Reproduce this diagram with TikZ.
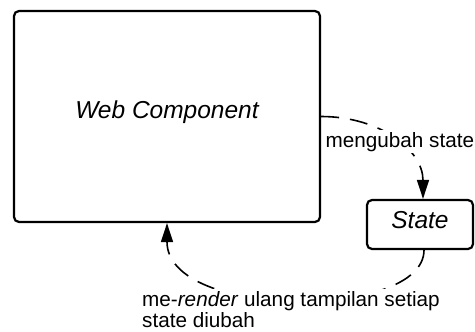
\documentclass[tikz,border=0pt]{standalone}
\usepackage{fontspec}
\setmainfont{Liberation Sans}
\usetikzlibrary{arrows.meta}
\begin{document}
\begin{tikzpicture}[x=1pt,y=-1pt,
  box/.style={draw=black, line width=2.2pt, rounded corners=5pt, fill=white, inner sep=0pt},
  conn/.style={line width=1.6pt, dash pattern=on 18pt off 11pt, -{Triangle[length=19pt,width=12pt]}},
  lbl/.style={fill=white, inner sep=2pt, font=\fontsize{20.7}{21}\selectfont}
]
\useasboundingbox (0,0) rectangle (475,332);
\node[box, minimum width=306pt, minimum height=211pt, text height=18pt, text depth=15pt,
      font=\fontsize{24.5}{29}\selectfont\itshape] (wc) at (167,116.5) {Web Component};
\node[box, minimum width=106pt, minimum height=49pt, text height=17.5pt, text depth=10.5pt,
      font=\fontsize{24.5}{29}\selectfont\itshape] (st) at (420,224.5) {State};
\draw[conn] (wc.east) .. controls (380,116.5) and (423,150) .. ([xshift=3pt]st.north);
\draw[conn] ([xshift=4pt]st.south) .. controls (424,320) and (167,320) .. (wc.south);
\node[lbl, anchor=base west] (l1) at (323.5,147) {mengubah state};
\node[lbl, anchor=north west, align=left] (l2) at (140,289) {me-\textit{render} ulang tampilan setiap\\state diubah};
\end{tikzpicture}
\end{document}
